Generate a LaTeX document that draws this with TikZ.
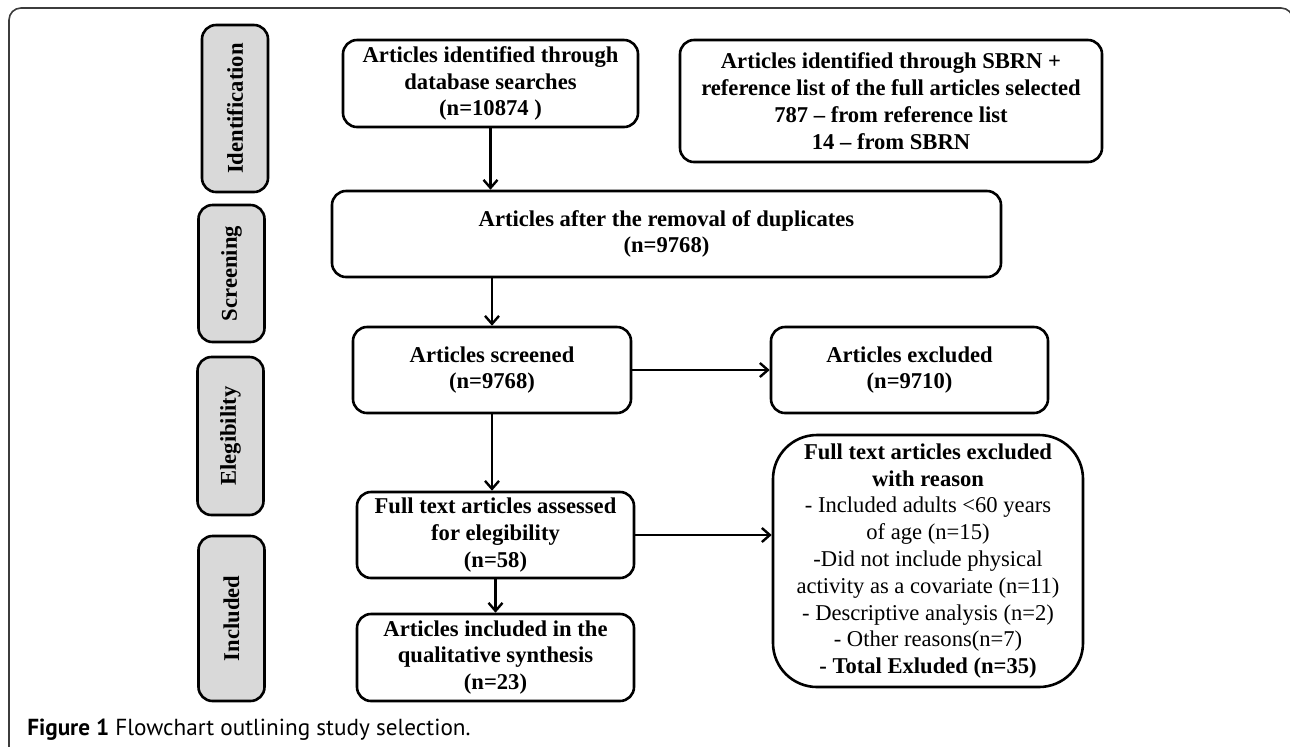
\documentclass[tikz,border=0pt]{standalone}
\usepackage{fontspec}
\setmainfont{Liberation Serif}
\newfontfamily\capfont{PT Sans}
\usetikzlibrary{arrows.meta}
\definecolor{stagegray}{RGB}{217,217,217}
\definecolor{framegray}{RGB}{60,60,60}

\begin{document}
\begin{tikzpicture}[x=0.5pt,y=-0.5pt,line width=1.3pt,
    >={Straight Barb[length=4pt,width=7pt]},
    box/.style={draw,rounded corners=7pt,align=center,inner sep=2pt,
        font=\fontsize{11.3}{13.4}\selectfont\bfseries},
    stagebox/.style={draw,fill=stagegray,rounded corners=7pt,rotate=90,
        inner sep=0pt,minimum height=33pt,
        font=\fontsize{11.3}{13.4}\selectfont\bfseries},
    link/.style={->,line width=1.2pt}]

    \path[use as bounding box] (0,0) rectangle (1290,746);

    % FRAME
    \draw[framegray,line width=0.8pt,rounded corners=6pt]
        (9,780) -- (9,8) -- (1293,8) -- (1293,780);

    % STAGES
    \node[stagebox,minimum width=83.5pt] (ident) at (235,108.5) {Identification};
    \node[stagebox,minimum width=68.5pt] (screen) at (231.5,273.5) {Screening};
    \node[stagebox,minimum width=79pt] (elig) at (230.5,436) {Elegibility};
    \node[stagebox,minimum width=82.5pt] (incl) at (231.5,618.5) {Included};

    % ROW 1
    \node[box,minimum width=147.5pt,minimum height=43.5pt] (db) at (490.5,83.5)
        {Articles identified through\\database searches\\(n=10874 )};
    \node[box,minimum width=211pt,minimum height=61pt] (sbrn) at (891,101)
        {Articles identified through SBRN +\\reference list of the full articles selected\\787 -- from reference list\\14 -- from SBRN};

    % ROW 2
    \node[box,minimum width=334.5pt,minimum height=43pt] (dup) at (666.5,234)
        {Articles after the removal of duplicates\\(n=9768)};

    % ROW 3
    \node[box,minimum width=139pt,minimum height=43pt] (scr) at (492,370)
        {Articles screened\\(n=9768)};
    \node[box,minimum width=138.5pt,minimum height=43pt] (excl) at (909.5,370)
        {Articles excluded\\(n=9710)};

    % ROW 4
    \node[box,minimum width=138.5pt,minimum height=43pt] (full) at (495.5,535)
        {Full text articles assessed\\for elegibility\\(n=58)};
    \node[box,rounded corners=22pt,minimum width=155pt,minimum height=126pt,
        font=\fontsize{11.3}{13.4}\selectfont] (reason) at (928,561)
        {\textbf{Full text articles excluded}\\\textbf{with reason}\\
         - Included adults <60 years\\of age (n=15)\\
         -Did not include physical\\activity as a covariate (n=11)\\
         - Descriptive analysis (n=2)\\- Other reasons(n=7)\\
         \textbf{- Total Exluded (n=35)}};

    % ROW 5
    \node[box,minimum width=138.5pt,minimum height=43.5pt] (final) at (495.5,657.5)
        {Articles included in the\\qualitative synthesis\\(n=23)};

    % ARROWS
    \draw[link] (db.south) -- (db.south |- dup.north);
    \draw[link] (scr.north |- dup.south) -- (scr.north);
    \draw[link] (scr) -- (excl);
    \draw[link] (scr.south) -- (scr.south |- full.north);
    \draw[link] (full.east) -- (full.east -| reason.west);
    \draw[link] (full) -- (final);

    % CAPTION
    \node[anchor=base west,inner sep=0pt,font=\capfont\fontsize{11.6}{13}\selectfont]
        (cap) at (26,735) {\textbf{Figure 1} Flowchart outlining study selection.};

\end{tikzpicture}
\end{document}
